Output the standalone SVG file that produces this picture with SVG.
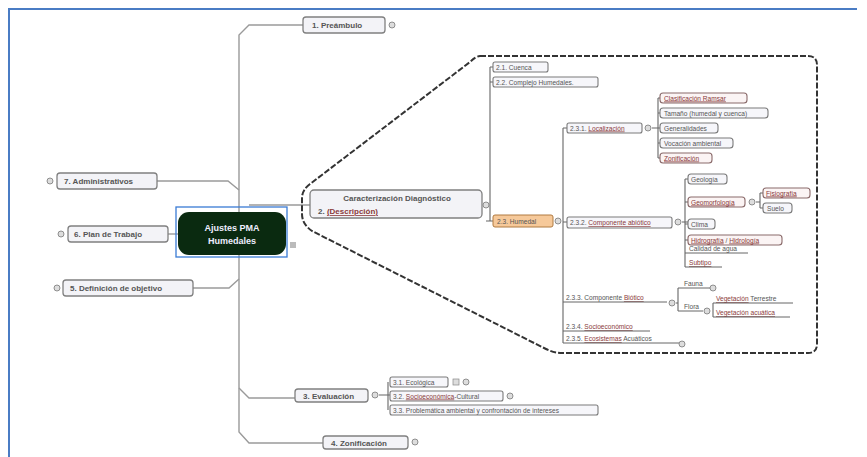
<svg xmlns="http://www.w3.org/2000/svg" width="867" height="457" viewBox="0 0 867 457">
<style>
.t{font-family:"Liberation Sans",Arial,sans-serif;font-size:6.6px;fill:#555}
.m{font-family:"Liberation Sans",Arial,sans-serif;font-size:8px;font-weight:bold;fill:#555}
.lk{fill:#8a3a3a;text-decoration:underline}
.bx{fill:#f6f6fa;stroke:#7a7a7a;stroke-width:1.1}
.bm{fill:#f3f3f7;stroke:#808080;stroke-width:1.3}
.rb{fill:#fbf4f4;stroke:#8a6a6a;stroke-width:1.1}
.con{fill:none;stroke:#9a9a9a;stroke-width:1.4}
.ci{fill:none;stroke:#666;stroke-width:1.1}
.ul{fill:none;stroke:#666;stroke-width:1}
.ic{fill:#ddd;stroke:#777;stroke-width:0.8}
</style>
<rect width="867" height="457" fill="#fff"/>
<path d="M9 457 L9 9 L857 9" fill="none" stroke="#4a7cc4" stroke-width="2"/>

<g id="connectors">
<path class="con" d="M303 25 L249 25 L239 35 L239 432 L249 443 L323 443"/>
<path class="con" d="M239 388 L249 398 L295 398"/>
<path class="con" d="M157 181 L228 181 L239 190"/>
<path class="con" d="M193 288 L229 288 L239 279"/>
<path class="con" d="M168 234 L178 234"/>
<path class="con" d="M249 205 L310 205"/>
<path d="M480 56 L808 56 Q817 56 817 65 L817 344 Q817 353 808 353 L562 353 Q554 353 546 349 L312 231 Q302 224 302 214 L302 198 Q302 190 310 184 L470 62 Q476 56 480 56 Z" fill="none" stroke="#333" stroke-width="2" stroke-dasharray="6 2"/>
<path class="ci" d="M490 221 L490 67 M490 67 L493 67 M490 82 L493 82 M486 221 L493 221"/>
<path class="ci" d="M563 128 L563 343 M563 128 L567 128 M563 222 L567 222"/>
<path class="ci" d="M658 98 L658 158 M658 98 L660 98 M658 113 L660 113 M652 128 L660 128 M658 143 L660 143 M658 158 L660 158"/>
<path class="ci" d="M685 179 L685 267 M685 179 L688 179 M682 222 L688 222 M685 202 L688 202 M685 224 L688 224 M685 240 L688 240"/>
<path class="ci" d="M760 193 L760 208 M756 202 L760 202 M760 193 L763 193 M760 208 L763 208"/>
<path class="ci" d="M678 288 L678 311 M676 303 L678 303"/>
<path class="ci" d="M713 303 L713 317"/>
<path class="ci" d="M388 382 L388 410 M379 395 L390 395"/>
</g>

<g id="n1"><rect class="bm" x="303" y="17" width="82" height="16" rx="3"/><text class="m" x="312" y="28">1. Preámbulo</text><circle class="ic" cx="392" cy="25" r="3"/></g>
<g id="n7"><rect class="bm" x="57" y="173" width="100" height="16" rx="3"/><text class="m" x="64" y="184">7. Administrativos</text><circle class="ic" cx="50" cy="181" r="3"/></g>
<g id="n6"><rect class="bm" x="68" y="226" width="100" height="16" rx="3"/><text class="m" x="74" y="237">6. Plan de Trabajo</text><circle class="ic" cx="61" cy="234" r="3"/></g>
<g id="n5"><rect class="bm" x="63" y="280" width="130" height="16" rx="3"/><text class="m" x="70" y="291">5. Definición de objetivo</text><circle class="ic" cx="57" cy="288" r="3"/></g>
<g id="root">
<rect x="176" y="207" width="111" height="50" fill="none" stroke="#3a7bd5" stroke-width="1.3"/>
<rect x="178" y="212" width="108" height="43" rx="11" fill="#0a2a10"/>
<text class="m" x="232" y="231" text-anchor="middle" style="fill:#eef;font-size:9px">Ajustes PMA</text>
<text class="m" x="232" y="244" text-anchor="middle" style="fill:#eef;font-size:9px">Humedales</text>
<rect x="290" y="242" width="6" height="6" fill="#bbb"/>
</g>
<g id="n2"><rect class="bm" x="310" y="190" width="172" height="28" rx="4"/><text class="m" x="397" y="201" text-anchor="middle">Caracterización Diagnóstico</text><text class="m" x="318" y="214">2. <tspan class="lk">(Descripción)</tspan></text><circle class="ic" cx="486" cy="205" r="3"/></g>
<g id="n21"><rect class="bx" x="493" y="62" width="55" height="10" rx="2"/><text class="t" x="496" y="69.5">2.1. Cuenca</text></g>
<g id="n22"><rect class="bx" x="493" y="77" width="105" height="10" rx="2"/><text class="t" x="496" y="84.5">2.2. Complejo Humedales.</text></g>
<g id="n23"><rect x="493" y="215" width="60" height="12" rx="2" fill="#f6c99a" stroke="#b07a40" stroke-width="1"/><text class="t" x="497" y="223.5">2.3. Humedal</text><circle class="ic" cx="558" cy="221" r="3"/></g>
<g id="n231"><rect class="bx" x="567" y="123" width="75" height="10" rx="2"/><text class="t" x="570" y="130.5">2.3.1. <tspan class="lk">Localización</tspan></text><circle class="ic" cx="648" cy="128" r="3"/></g>
<g id="n2311"><rect class="rb" x="660" y="93" width="87" height="10" rx="3"/><text class="t lk" x="664" y="100.5">Clasificación Ramsar</text></g>
<g id="n2312"><rect class="bx" x="660" y="108" width="108" height="10" rx="3"/><text class="t" x="664" y="115.5">Tamaño (humedal y cuenca)</text></g>
<g id="n2313"><rect class="bx" x="660" y="123" width="58" height="10" rx="3"/><text class="t" x="664" y="130.5">Generalidades</text></g>
<g id="n2314"><rect class="bx" x="660" y="138" width="73" height="10" rx="3"/><text class="t" x="664" y="145.5">Vocación ambiental</text></g>
<g id="n2315"><rect class="rb" x="660" y="153" width="52" height="10" rx="3"/><text class="t lk" x="664" y="160.5">Zonificación</text></g>
<g id="n232"><rect class="bx" x="567" y="217" width="105" height="11" rx="2"/><text class="t" x="570" y="225">2.3.2. <tspan class="lk">Componente abiótico</tspan></text><circle class="ic" cx="678" cy="222" r="3"/></g>
<g id="n2321"><rect class="bx" x="688" y="174" width="39" height="10" rx="3"/><text class="t" x="691" y="181.5">Geología</text></g>
<g id="n2322"><rect class="rb" x="688" y="197" width="57" height="10" rx="3"/><text class="t lk" x="691" y="204.5">Geomorfología</text><circle class="ic" cx="752" cy="202" r="3"/></g>
<g id="n23221"><rect class="rb" x="763" y="188" width="47" height="10" rx="3"/><text class="t lk" x="766" y="195.5">Fisiografía</text></g>
<g id="n23222"><rect class="bx" x="763" y="203" width="29" height="10" rx="3"/><text class="t" x="767" y="210.5">Suelo</text></g>
<g id="n2323"><rect class="bx" x="688" y="219" width="27" height="10" rx="3"/><text class="t" x="691" y="226.5">Clima</text></g>
<g id="n2324"><rect class="rb" x="688" y="235" width="94" height="10" rx="3"/><text class="t" x="691" y="242.5"><tspan class="lk">Hidrografía</tspan> / <tspan class="lk">Hidrología</tspan></text></g>
<g id="n2325"><text class="t" x="689" y="251">Calidad de agua</text><path class="ul" d="M685 253 L748 253"/></g>
<g id="n2326"><text class="t lk" x="689" y="265">Subtipo</text><path class="ul" d="M685 267 L722 267"/></g>
<g id="n233"><text class="t" x="566" y="300">2.3.3. Componente <tspan class="lk">Biótico</tspan></text><path class="ul" d="M563 302 L667 302"/><circle class="ic" cx="672" cy="303" r="3"/></g>
<g id="n2331"><text class="t" x="684" y="286">Fauna</text><path class="ul" d="M678 288 L710 288"/><circle class="ic" cx="713" cy="288" r="3"/></g>
<g id="n2332"><text class="t" x="684" y="309">Flora</text><path class="ul" d="M678 311 L703 311"/><circle class="ic" cx="707" cy="311" r="3"/></g>
<g id="n23321"><text class="t" x="716" y="301"><tspan class="lk">Vegetación</tspan> Terrestre</text><path class="ul" d="M713 303 L793 303"/></g>
<g id="n23322"><text class="t lk" x="716" y="315">Vegetación acuática</text><path class="ul" d="M713 317 L790 317"/></g>
<g id="n234"><text class="t" x="566" y="329">2.3.4. <tspan class="lk">Socioeconómico</tspan></text><path class="ul" d="M563 331 L650 331"/></g>
<g id="n235"><text class="t" x="566" y="341">2.3.5. <tspan class="lk">Ecosistemas</tspan> Acuáticos</text><path class="ul" d="M563 343 L679 343"/><circle class="ic" cx="682" cy="344" r="3"/></g>
<g id="n3"><rect class="bm" x="295" y="389" width="73" height="13" rx="3"/><text class="m" x="303" y="398.5">3. Evaluación</text><circle class="ic" cx="375" cy="395" r="3"/></g>
<g id="n31"><rect class="bx" x="390" y="377" width="58" height="10" rx="2"/><text class="t" x="393" y="384.5">3.1. Ecológica</text><rect x="453" y="379" width="6" height="6" fill="#ddd" stroke="#888" stroke-width="0.7"/><circle class="ic" cx="466" cy="382" r="3"/></g>
<g id="n32"><rect class="bx" x="390" y="391" width="113" height="10" rx="2"/><text class="t" x="393" y="398.5">3.2. <tspan class="lk">Socioeconómica</tspan>-Cultural</text><circle class="ic" cx="510" cy="396" r="3"/></g>
<g id="n33"><rect class="bx" x="390" y="405" width="208" height="10" rx="2"/><text class="t" x="393" y="412.5">3.3. Problemática ambiental y confrontación de intereses</text></g>
<g id="n4"><rect class="bm" x="323" y="436" width="85" height="13" rx="3"/><text class="m" x="331" y="445.5">4. Zonificación</text><circle class="ic" cx="415" cy="442" r="3"/></g>
</svg>
